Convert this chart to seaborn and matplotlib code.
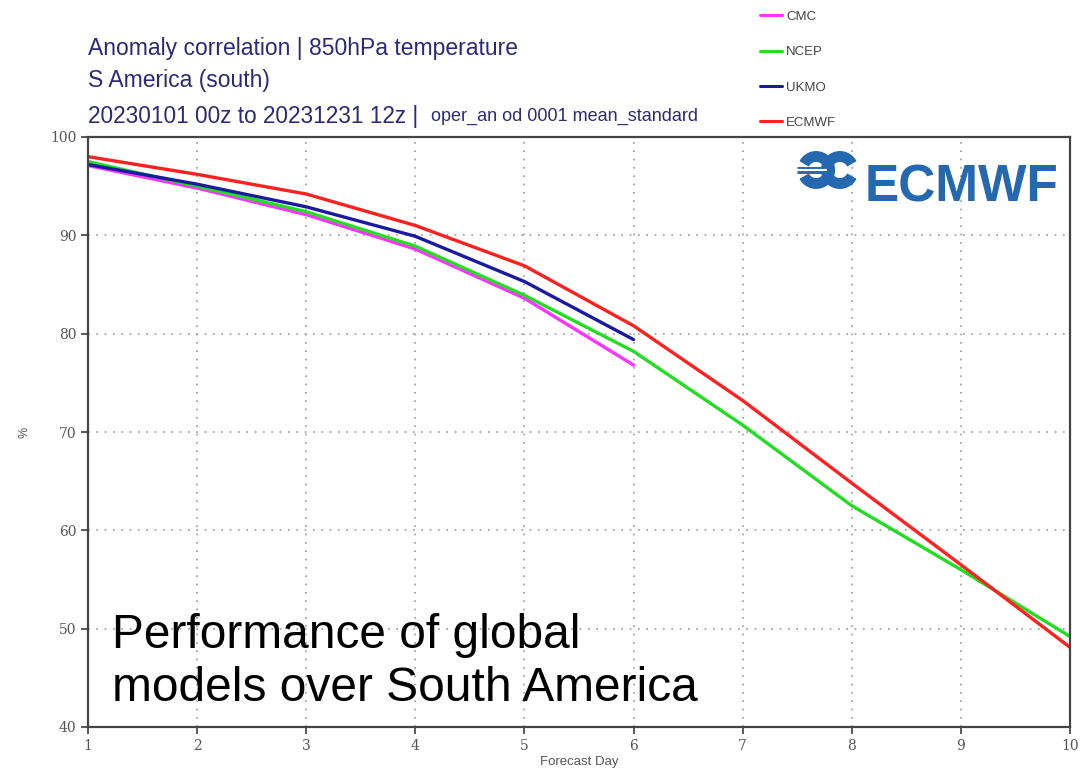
import matplotlib

matplotlib.use("Agg")

import matplotlib.pyplot as plt
import numpy as np
import pandas as pd
import seaborn as sns
from matplotlib.patches import Wedge

# Anomaly correlation (%) of 850hPa temperature, S America (south), 2023
days = [1, 2, 3, 4, 5, 6, 7, 8, 9, 10]
ecmwf = [98.0, 96.2, 94.2, 91.0, 86.9, 80.8, 73.2, 64.8, 56.5, 48.1]
ncep = [97.5, 95.0, 92.4, 88.9, 83.9, 78.2, 70.7, 62.5, 56.0, 49.2]
ukmo = [97.2, 95.2, 92.9, 89.9, 85.3, 79.4]
cmc = [97.1, 94.8, 92.1, 88.6, 83.6, 76.8]

models = ["CMC", "NCEP", "UKMO", "ECMWF"]
colors = {"CMC": "#ff33ff", "NCEP": "#22dd22", "UKMO": "#1a1aa0", "ECMWF": "#ff2020"}

frames = []
for name, vals in zip(models, [cmc, ncep, ukmo, ecmwf]):
    frames.append(pd.DataFrame({"day": days[: len(vals)], "score": vals, "model": name}))
df = pd.concat(frames, ignore_index=True)

sns.set_theme(style="white")
plt.rcParams["font.family"] = ["Liberation Sans", "DejaVu Sans"]

W, H = 1084, 769
fig = plt.figure(figsize=(W / 100, H / 100), dpi=100)
ax = fig.add_axes([88 / W, 1 - 727 / H, (1070 - 88) / W, (727 - 137) / H])

sns.lineplot(
    data=df, x="day", y="score", hue="model", hue_order=models,
    palette=colors, linewidth=2.4, ax=ax, legend=False, sort=False,
)

ax.set_xlim(1, 10)
ax.set_ylim(40, 100)
ax.set_xticks(range(1, 11))
ax.set_yticks(range(40, 101, 10))
ax.grid(True, color="#999999", linestyle=(0, (1, 4)), linewidth=1.2)
for side in ax.spines.values():
    side.set_color("#444444")
    side.set_linestyle((0, (3, 1)))
    side.set_linewidth(1.6)
ax.tick_params(axis="both", direction="out", length=5, color="#444444",
               labelsize=10, labelcolor="#555555", bottom=True, left=True)
for lab in ax.get_xticklabels() + ax.get_yticklabels():
    lab.set_family("DejaVu Serif")
ax.set_xlabel("Forecast Day", fontsize=9.5, color="#555555", labelpad=2)
ax.set_ylabel("%", fontsize=9, color="#555555", labelpad=14)

# title lines
navy = "#2a2a7a"
fig.text(88 / W, 1 - 48 / H, "Anomaly correlation | 850hPa temperature",
         fontsize=16.5, color=navy, va="center")
fig.text(88 / W, 1 - 81 / H, "S America (south)", fontsize=16.5, color=navy, va="center")
fig.text(88 / W, 1 - 116 / H, "20230101 00z to 20231231 12z |",
         fontsize=16.3, color=navy, va="center")
fig.text(431 / W, 1 - 116 / H, "oper_an od 0001 mean_standard",
         fontsize=13, color=navy, va="center")

# legend
handles = [plt.Line2D([], [], color=colors[m], linewidth=2.2) for m in models]
fig.legend(handles, models, loc="upper left", bbox_to_anchor=(748 / W, 1 + 1 / H),
           frameon=False, fontsize=9.5, labelspacing=1.75, handlelength=1.7,
           handletextpad=0.3, labelcolor="#444444")

# ECMWF wordmark
logo_blue = "#2468b0"
ax.text(0.988, 0.955, "ECMWF", transform=ax.transAxes, ha="right", va="top",
        fontsize=37, fontweight="bold", color=logo_blue)
lax = fig.add_axes([797 / W, 1 - 193 / H, 62 / W, 46 / H])
lax.set_xlim(-1.05, 2.35)
lax.set_ylim(-1.25, 1.25)
lax.set_aspect("equal")
lax.axis("off")
lax.add_patch(Wedge((0, 0), 1.0, -150, 150, width=0.52, color=logo_blue))
lax.add_patch(Wedge((1.3, 0), 1.0, 30, 330, width=0.52, color=logo_blue))
lax.plot([-1.05, 0.75], [0, 0], color=logo_blue, linewidth=5, solid_capstyle="butt")
lax.plot([-1.05, 0.6], [0, 0], color="white", linewidth=1.5, solid_capstyle="butt")

# annotation
fig.text(112 / W, 1 - 662 / H, "Performance of global\nmodels over South America",
         fontsize=34.5, color="black", va="center", linespacing=1.22)

fig.savefig("out.png", dpi=100)
